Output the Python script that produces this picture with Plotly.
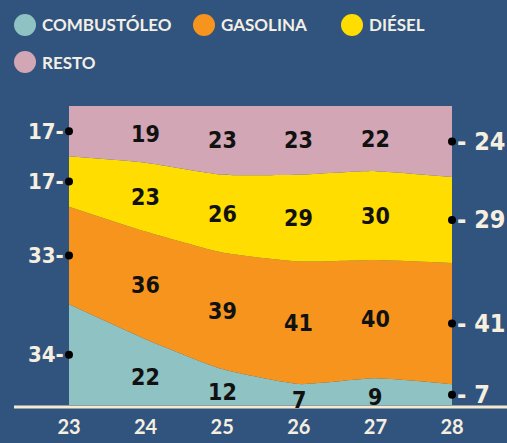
import plotly.graph_objects as go

years = [23, 24, 25, 26, 27, 28]
tick_labels = ["23", "24", "25", "26", "27", "28"]
series_names = ["COMBUSTÓLEO", "GASOLINA", "DIÉSEL", "RESTO"]
combustoleo = [34, 22, 12, 7, 9, 7]
gasolina = [33, 36, 39, 41, 40, 41]
diesel = [17, 23, 26, 29, 30, 29]
resto = [17, 19, 23, 23, 22, 24]

series = [combustoleo, gasolina, diesel, resto]
colors = ["#8fc2c3", "#f7941d", "#ffdd00", "#d2a6b4"]
BG = "#31547f"
NUM_FONT = "DejaVu Sans Condensed, DejaVu Sans, sans-serif"
TXT_FONT = "Lato, Noto Sans, sans-serif"

L, R, T, B, W, H = 69, 55, 106, 38, 507, 443
PW, PH = W - L - R, H - T - B


def px_x(px):
    return (px - L) / PW


def px_y(py):
    return (H - B - py) / PH


fig = go.Figure()
for name, vals, col in zip(series_names, series, colors):
    fig.add_trace(go.Scatter(
        x=years, y=vals, name=name, stackgroup="one", groupnorm="percent",
        mode="lines", line=dict(width=0, color=col, shape="spline", smoothing=0.5),
        fillcolor=col, showlegend=False, hoverinfo="skip"))

# compute normalized midpoints
totals = [sum(s[i] for s in series) for i in range(len(years))]
cum = [0.0] * len(years)
mids = []
for s in series:
    m = []
    for i in range(len(years)):
        v = s[i] * 100.0 / totals[i]
        m.append(cum[i] + v / 2)
        cum[i] += v
    mids.append(m)

annotations = []
shapes = []
# interior labels
for k, (s, m) in enumerate(zip(series, mids)):
    for i in range(1, len(years) - 1):
        annotations.append(dict(
            x=years[i], y=m[i], text=f"<b>{s[i]}</b>", showarrow=False,
            font=dict(family=NUM_FONT, size=23, color="#111111"),
            xref="x", yref="y", yshift=-5 if k == 0 else 0))
# left & right edge labels
for s, m in zip(series, mids):
    annotations.append(dict(
        x=years[0], y=m[0], text=f"<b>{s[0]}-</b>", showarrow=False,
        xanchor="right", xshift=-3,
        font=dict(family=NUM_FONT, size=22, color="#f6efe0"), xref="x", yref="y"))
    annotations.append(dict(
        x=years[-1], y=m[-1], text=f"<b>- {s[-1]}</b>", showarrow=False,
        xanchor="left", xshift=3,
        font=dict(family=NUM_FONT, size=25, color="#f6efe0"), xref="x", yref="y"))

# edge dots
fig.add_trace(go.Scatter(
    x=[years[0]] * 4 + [years[-1]] * 4,
    y=[m[0] for m in mids] + [m[-1] for m in mids],
    mode="markers", marker=dict(color="#000000", size=8),
    cliponaxis=False, showlegend=False, hoverinfo="skip"))

# custom legend (circle + label)
legend_pos = [(25, 25), (204, 25), (352, 25), (25, 62)]
for name, col, (cx, cy) in zip(series_names, colors, legend_pos):
    shapes.append(dict(type="circle", xref="paper", yref="paper",
                       xsizemode="pixel", ysizemode="pixel",
                       xanchor=px_x(cx), yanchor=px_y(cy),
                       x0=-11, x1=11, y0=-11, y1=11,
                       fillcolor=col, line=dict(width=0)))
    annotations.append(dict(x=px_x(cx + 15), y=px_y(cy), xref="paper", yref="paper",
                            text=name, showarrow=False, xanchor="left", yanchor="middle",
                            font=dict(family=TXT_FONT, size=17, color="#f3efe6", weight="bold")))

shapes.append(dict(type="line", xref="paper", yref="paper", x0=px_x(14), x1=px_x(507),
                   y0=px_y(407), y1=px_y(407), line=dict(color="#f3ead0", width=3)))

fig.update_layout(
    width=W, height=H,
    paper_bgcolor=BG, plot_bgcolor=BG,
    margin=dict(l=L, r=R, t=T, b=B, autoexpand=False),
    showlegend=False,
    annotations=annotations,
    shapes=shapes,
    xaxis=dict(range=[years[0], years[-1]], tickvals=years, ticktext=tick_labels,
               showgrid=False, zeroline=False, showline=False, ticks="",
               ticklabelstandoff=8,
               tickfont=dict(family=TXT_FONT, size=20, color="#f6efe0", weight="bold"),
               fixedrange=True, automargin=False),
    yaxis=dict(range=[0, 100], showgrid=False, zeroline=False, showline=False,
               showticklabels=False, ticks="", fixedrange=True, automargin=False),
)
fig.write_html(
    "out.html",
    config={"displayModeBar": False, "staticPlot": True},
    post_script="document.body.style.margin='0';document.body.style.overflow='hidden';",
)
